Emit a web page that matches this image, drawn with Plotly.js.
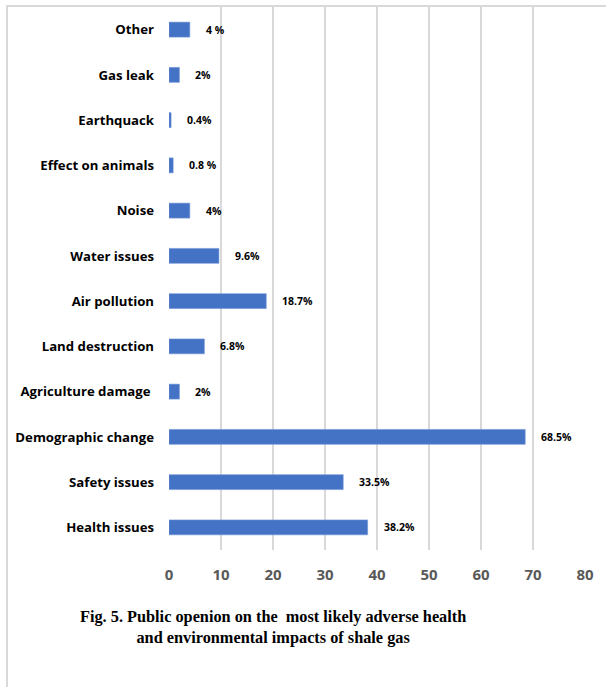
<!DOCTYPE html>
<html>
<head>
<meta charset="utf-8">
<script src="https://cdn.plot.ly/plotly-3.0.1.min.js"></script>
<style>
html,body{margin:0;padding:0;background:#fff;}
#chart{width:606px;height:687px;}
</style>
</head>
<body>
<div id="chart"></div>
<script>
const categories = ["Other","Gas leak","Earthquack","Effect on animals","Noise","Water issues","Air pollution","Land destruction","Agriculture damage ","Demographic change","Safety issues","Health issues"];
const values = [4, 2, 0.4, 0.8, 4, 9.6, 18.7, 6.8, 2, 68.5, 33.5, 38.2];
const valueLabels = ["4 %","2%","0.4%","0.8 %","4%","9.6%","18.7%","6.8%","2%","68.5%","33.5%","38.2%"];
const xTicks = [0,10,20,30,40,50,60,70,80];
const caption = "Fig. 5. Public openion on the \u00a0most likely adverse health<br>and environmental impacts of shale gas";

// plot area geometry (pixels)
const W = 606, H = 687, L = 169, R = 21, T = 7, B = 137;
const pw = W - L - R, ph = H - T - B;
const px = x => (x - L) / pw;
const py = y => (H - B - y) / ph;

const trace = {
  type: 'bar',
  orientation: 'h',
  y: categories,
  x: values,
  marker: {color: '#4472C4', line: {color: '#6f93d6', width: 0.6}},
  hoverinfo: 'skip'
};

const annotations = categories.map((c, i) => ({
  x: values[i], y: c, xref: 'x', yref: 'y',
  text: '<b>' + valueLabels[i] + '</b>',
  showarrow: false, xanchor: 'left', xshift: 14,
  font: {family: 'Open Sans, sans-serif', size: 10.5, color: '#000'}
}));
annotations.push({
  x: px(273), y: py(627), xref: 'paper', yref: 'paper',
  text: '<b>' + caption + '</b>', showarrow: false,
  xanchor: 'center', yanchor: 'middle',
  font: {family: 'Liberation Serif, Times New Roman, serif', size: 16.3, color: '#000'}
});

const layout = {
  width: W, height: H,
  margin: {l: L, r: R, t: T, b: B, pad: 0},
  paper_bgcolor: '#fff', plot_bgcolor: '#fff',
  showlegend: false,
  bargap: 0.67,
  font: {family: 'Open Sans, sans-serif'},
  xaxis: {
    range: [0, 80], tickvals: xTicks, ticktext: xTicks.map(String),
    showgrid: true, gridcolor: '#d9d9d9', gridwidth: 1.6,
    zeroline: false, showline: false, ticks: '',
    ticklabelstandoff: 14,
    tickfont: {family: 'Open Sans, sans-serif', size: 15, color: '#595959', weight: 'bold'},
    fixedrange: true
  },
  yaxis: {
    categoryorder: 'array', categoryarray: categories.slice().reverse(),
    autorange: false, range: [-0.5, categories.length - 0.5],
    showgrid: false, zeroline: false, showline: false, ticks: '',
    ticklabelstandoff: 14,
    tickfont: {family: 'Open Sans, sans-serif', size: 13.2, color: '#000', weight: 'bold'},
    fixedrange: true
  },
  annotations: annotations,
  shapes: [
    {type: 'line', xref: 'paper', yref: 'paper', x0: px(7), x1: px(7), y0: py(6), y1: py(H + 2), line: {color: '#d9d9d9', width: 2}},
    {type: 'line', xref: 'paper', yref: 'paper', x0: px(6), x1: px(W + 2), y0: py(6), y1: py(6), line: {color: '#d9d9d9', width: 2}}
  ]
};

Plotly.newPlot('chart', [trace], layout, {displayModeBar: false, staticPlot: true});
</script>
</body>
</html>
